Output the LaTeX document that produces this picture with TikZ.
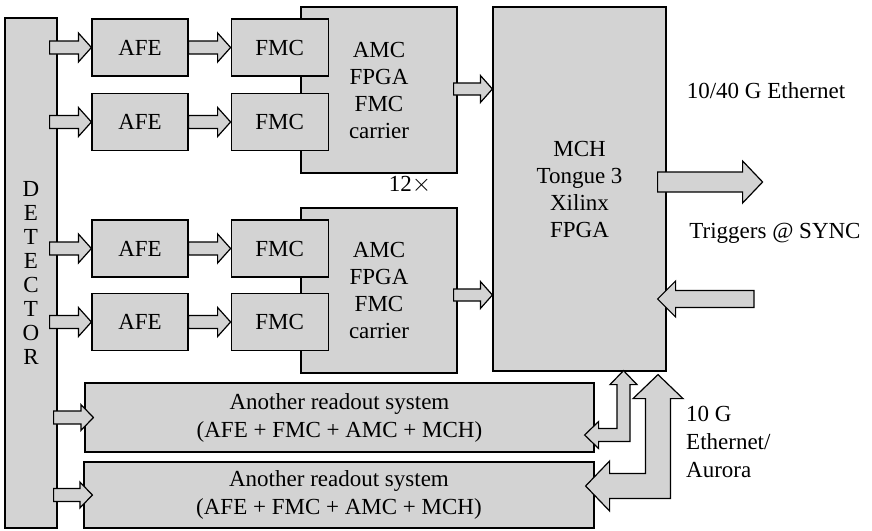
\documentclass[tikz,border=0pt]{standalone}
\usepackage{fontspec}
\setmainfont{Liberation Serif}
\usetikzlibrary{positioning,calc}

% hollow block arrow: tail, tip, half shaft, half head, head length
\newcommand{\blockarrow}[5]{%
	\draw[blockarrow] ($(#1)+(0,-#3)$) -- ($(#2)-(#5,#3)$) -- ($(#2)-(#5,#4)$) -- (#2) -- ($(#2)-(#5,-#4)$) -- ($(#2)-(#5,-#3)$) -- ($(#1)+(0,#3)$) -- cycle;}
% bent double block arrow: up tip, left tip, half shaft, half head, head length
\newcommand{\bentarrow}[5]{%
	\draw[blockarrow] (#1) -- ($(#1)+(#4,#5)$) -- ($(#1)+(#3,#5)$) -- ($(#1|-#2)+(#3,#3)$) -- ($(#2)+(#5,#3)$) -- ($(#2)+(#5,#4)$) -- (#2) -- ($(#2)+(#5,-#4)$) -- ($(#2)+(#5,-#3)$) -- ($(#1|-#2)+(-#3,-#3)$) -- ($(#1)+(-#3,#5)$) -- ($(#1)+(-#4,#5)$) -- cycle;}

\begin{document}
\begin{tikzpicture}[x=1pt, y=-1pt]
	\definecolor{boxgray}{RGB}{211,211,211}
	\tikzstyle{block}=[rectangle, draw=black, fill=boxgray, line width=1.2pt, inner sep=0pt, align=center, font=\fontsize{23}{27}\selectfont]
	\tikzstyle{blockarrow}=[draw=black, fill=boxgray, line width=1.2pt, line join=miter]
	\tikzstyle{note}=[inner sep=0pt, align=left, font=\fontsize{23}{28}\selectfont]
	\useasboundingbox (0,0) rectangle (872,530);

	% Detector column
	\node[block, minimum width=52, minimum height=510, font=\fontsize{23}{24}\selectfont] (DET) at (31,273) {D\\E\\T\\E\\C\\T\\O\\R};
	% FMC carriers and MCH
	\node[block, minimum width=156, minimum height=166] (AMC-1) at (379,90) {AMC\\FPGA\\FMC\\carrier};
	\node[block, minimum width=156, minimum height=165] (AMC-2) at (379,290.5) {AMC\\FPGA\\FMC\\carrier};
	\node[block, minimum width=173, minimum height=364] (MCH) at (579.5,189) {MCH\\Tongue 3\\Xilinx\\FPGA};
	% AFE and FMC boards
	\foreach \k/\y in {1/47.5,2/122,3/248.5,4/322} {
	 \node[block, minimum width=96, minimum height=57] (AFE-\k) at (140,\y) {AFE};
	 \node[block, minimum width=97, minimum height=57, right=42pt of AFE-\k] (FMC-\k) {FMC};
	}
	% Other readout systems
	\node[block, minimum width=509, minimum height=69, font=\fontsize{23}{28}\selectfont] (RO-1) at (339.5,417.5) {Another readout system\\(AFE + FMC + AMC + MCH)};
	\node[block, minimum width=510, minimum height=66, font=\fontsize{23}{28}\selectfont] (RO-2) at (339,495) {Another readout system\\(AFE + FMC + AMC + MCH)};

	% Detector -> AFE -> FMC
	\foreach \k in {1,...,4} {
	 \coordinate (d\k) at ($(DET.east|-AFE-\k.west)+(-8,0)$);
	 \blockarrow{d\k}{AFE-\k.west}{6.5}{14.5}{13}
	 \blockarrow{AFE-\k.east}{FMC-\k.west}{6.5}{14.5}{13}
	}
	% Carrier -> MCH
	\coordinate (c1) at ($(AMC-1.east)+(-4,-1)$);
	\coordinate (c2) at ($(AMC-2.east)+(-4,4.5)$);
	\foreach \k in {1,2} {
	 \coordinate (t\k) at (MCH.west|-c\k);
	 \blockarrow{c\k}{t\k}{6}{13.5}{12}
	}
	% Detector -> other readout systems
	\foreach \k in {1,2} {
	 \coordinate (r\k) at ($(DET.east|-RO-\k.west)+(-4,0)$);
	 \coordinate (s\k) at ($(RO-\k.west)+(9,0)$);
	 \blockarrow{r\k}{s\k}{6.5}{13}{12.5}
	}
	% MCH outputs and inputs
	\coordinate (o1) at ($(MCH.east)+(-9,-7)$);
	\coordinate (eth) at ($(o1)+(105,0)$);
	\blockarrow{o1}{eth}{10}{21}{20}
	\coordinate (sync) at (754,299);
	\coordinate (i1) at ($(MCH.east|-sync)+(-9,0)$);
	\blockarrow{sync}{i1}{8.5}{18}{-18}
	% 10 G links
	\coordinate (U1) at ($(MCH.south)+(44,-1)$);
	\coordinate (L1) at ($(RO-1.east)+(-10,17.5)$);
	\bentarrow{U1}{L1}{6.5}{13.5}{14}
	\coordinate (U2) at ($(MCH.south)+(78.5,3)$);
	\coordinate (L2) at ($(RO-2.east)+(-9,-9)$);
	\bentarrow{U2}{L2}{12.5}{25}{24}

	% Labels
	\node[note] (times) at (410,185) {12$\times$};
	\node[note] (eth-text) at (766,91) {10/40 G Ethernet};
	\node[note] (sync-text) at (775,233) {Triggers @ SYNC};
	\node[note, anchor=west] (aurora-text) at (686,442) {10 G\\Ethernet/\\Aurora};
\end{tikzpicture}
\end{document}
